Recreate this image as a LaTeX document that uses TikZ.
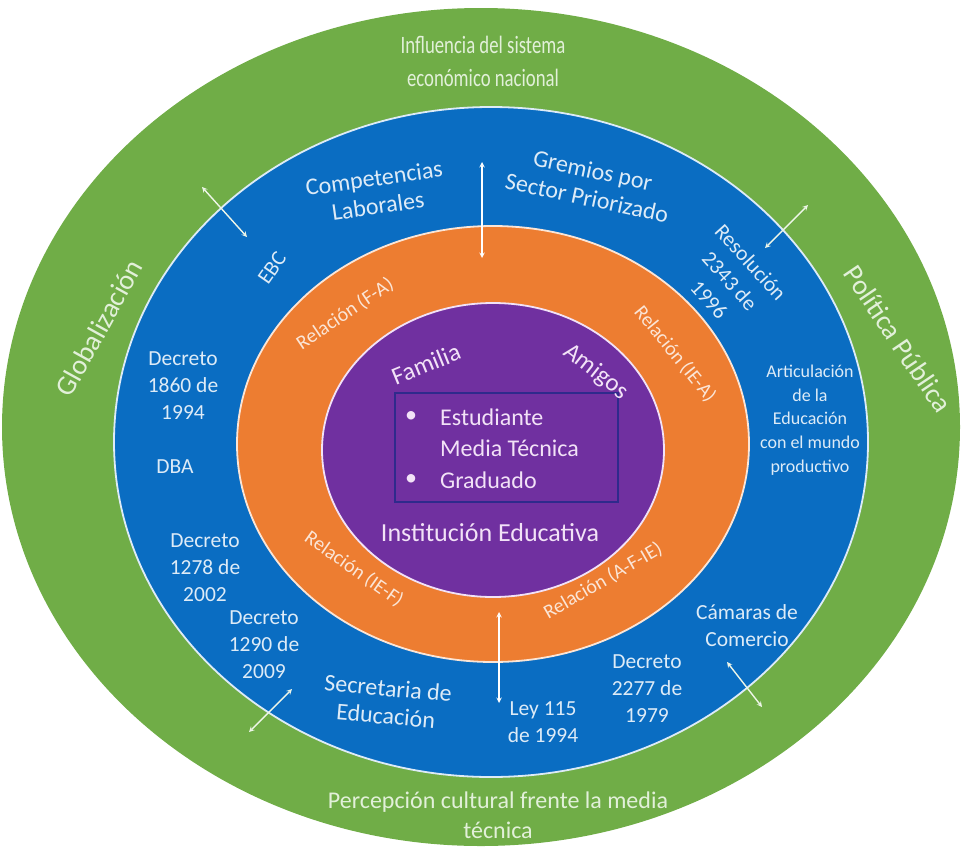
\documentclass[tikz,border=0pt]{standalone}
\usepackage{fontspec}
\setmainfont{Carlito}
\usepackage{tikz}
\usetikzlibrary{arrows,positioning}
\definecolor{ringgreen}{HTML}{70AD47}
\definecolor{ringblue}{HTML}{0A6DC2}
\definecolor{ringorange}{HTML}{ED7D31}
\definecolor{ringpurple}{HTML}{7030A0}
\definecolor{greenT}{HTML}{E2F0D9}
\definecolor{blueT}{HTML}{DDEBF7}
\definecolor{orangeT}{HTML}{FBE5D6}
\definecolor{purpleT}{HTML}{F2E2F7}
\definecolor{boxline}{HTML}{2F2A8C}

\begin{document}
\begin{tikzpicture}[x=1pt,y=-1pt,
  grtxt/.style={text=greenT,align=center,font=\fontsize{24}{30}\selectfont},
  bltxt/.style={text=blueT,align=center,font=\fontsize{21.5}{27}\selectfont},
  blhead/.style={text=blueT,align=center,font=\fontsize{24}{28}\selectfont},
  ortxt/.style={text=orangeT,font=\fontsize{20}{23}\selectfont},
  putxt/.style={text=purpleT,font=\fontsize{25}{30}\selectfont},
  dblarrow/.style={stealth-stealth,line width=1.4pt,draw=greenT!60!white}]
\useasboundingbox (0,0) rectangle (963,849);
\fill[ringgreen] (481,427) ellipse [x radius=479,y radius=419];
\draw[fill=ringblue,draw=blueT,line width=1.8pt] (491,442) ellipse [x radius=377,y radius=335];
\draw[fill=ringorange,draw=orangeT,line width=1.8pt] (493,444) ellipse [x radius=256,y radius=218];
\draw[fill=ringpurple,draw=purpleT,line width=1.8pt] (493,450) ellipse [x radius=171,y radius=147];
\draw[boxline,line width=1.3pt] (395,393) rectangle (618,502);

\node[grtxt,font=\fontsize{25}{33}\selectfont,xscale=0.75] (infl) at (483,61) {Influencia del sistema\\econ\'omico nacional};
\node[grtxt,font=\fontsize{28}{30}\selectfont,rotate=61] (glob) at (99,328) {Globalizaci\'on};
\node[grtxt,font=\fontsize{28}{30}\selectfont,rotate=-56] (poli) at (898,339) {Pol\'itica P\'ublica};
\node[grtxt] (perc) at (498,815) {Percepci\'on cultural frente la media\\t\'ecnica};

\node[blhead,rotate=8] (comp) at (376,192) {Competencias\\Laborales};
\node[blhead,rotate=-12] (grem) at (590,184) {Gremios por\\Sector Priorizado};
\node[blhead,rotate=-5] (secr) at (387,702) {Secretaria de\\Educaci\'on};
\node[bltxt,rotate=55] (ebc) at (272,268) {EBC};
\node[bltxt,rotate=-48,font=\fontsize{21.5}{28}\selectfont] (reso) at (730,281) {Resoluci\'on\\2343 de\\1996};
\node[bltxt] (d1860) at (183,386) {Decreto\\1860 de\\1994};
\node[bltxt] (dba) at (175,467) {DBA};
\node[bltxt] (d1278) at (205,568) {Decreto\\1278 de\\2002};
\node[bltxt] (d1290) at (264,645) {Decreto\\1290 de\\2009};
\node[bltxt] (ley) at (543,722) {Ley 115\\de 1994};
\node[bltxt] (d2277) at (647,689) {Decreto\\2277 de\\1979};
\node[bltxt] (cama) at (747,626) {C\'amaras de\\Comercio};
\node[bltxt,font=\fontsize{18}{23.7}\selectfont] (arti) at (810,420) {Articulaci\'on\\de la\\Educaci\'on\\con el mundo\\productivo};

\node[ortxt,rotate=34] (rfa) at (345,314) {Relaci\'on (F-A)};
\node[ortxt,rotate=-51] (riea) at (675,354) {Relaci\'on (IE-A)};
\node[ortxt,rotate=-35] (rief) at (354,569) {Relaci\'on (IE-F)};
\node[ortxt,rotate=30] (rafie) at (603,581) {Relaci\'on (A-F-IE)};

\node[putxt,rotate=22] (fam) at (426,364) {Familia};
\node[putxt,rotate=-38] (amig) at (596,372) {Amigos};
\node[putxt,font=\fontsize{26}{30}\selectfont] (inst) at (490,533) {Instituci\'on Educativa};
\node[putxt,font=\fontsize{24}{30}\selectfont] (b1) at (411,417) {\textbullet};
\node[putxt,font=\fontsize{24}{30}\selectfont] (b2) at (411,480) {\textbullet};
\node[putxt,font=\fontsize{24}{30}\selectfont,anchor=west,inner sep=0pt] (est) at (440,417) {Estudiante};
\node[putxt,font=\fontsize{24}{30}\selectfont,anchor=west,inner sep=0pt] (med) at (440,448) {Media T\'ecnica};
\node[putxt,font=\fontsize{24}{30}\selectfont,anchor=west,inner sep=0pt] (grad) at (440,480) {Graduado};

\coordinate (ula) at (202,187);
\coordinate (ulb) at (247,237);
\coordinate (tpa) at (482,162);
\coordinate (tpb) at (482,258);
\coordinate (ura) at (808,205);
\coordinate (urb) at (765,248);
\coordinate (lla) at (249,732);
\coordinate (llb) at (292,689);
\coordinate (bta) at (499,612);
\coordinate (btb) at (499,703);
\coordinate (lra) at (762,707);
\coordinate (lrb) at (727,662);
\draw[dblarrow] (ula) -- (ulb);
\draw[dblarrow,draw=white] (tpa) -- (tpb);
\draw[dblarrow] (ura) -- (urb);
\draw[dblarrow] (lla) -- (llb);
\draw[dblarrow,draw=white] (bta) -- (btb);
\draw[dblarrow] (lra) -- (lrb);
\end{tikzpicture}
\end{document}
